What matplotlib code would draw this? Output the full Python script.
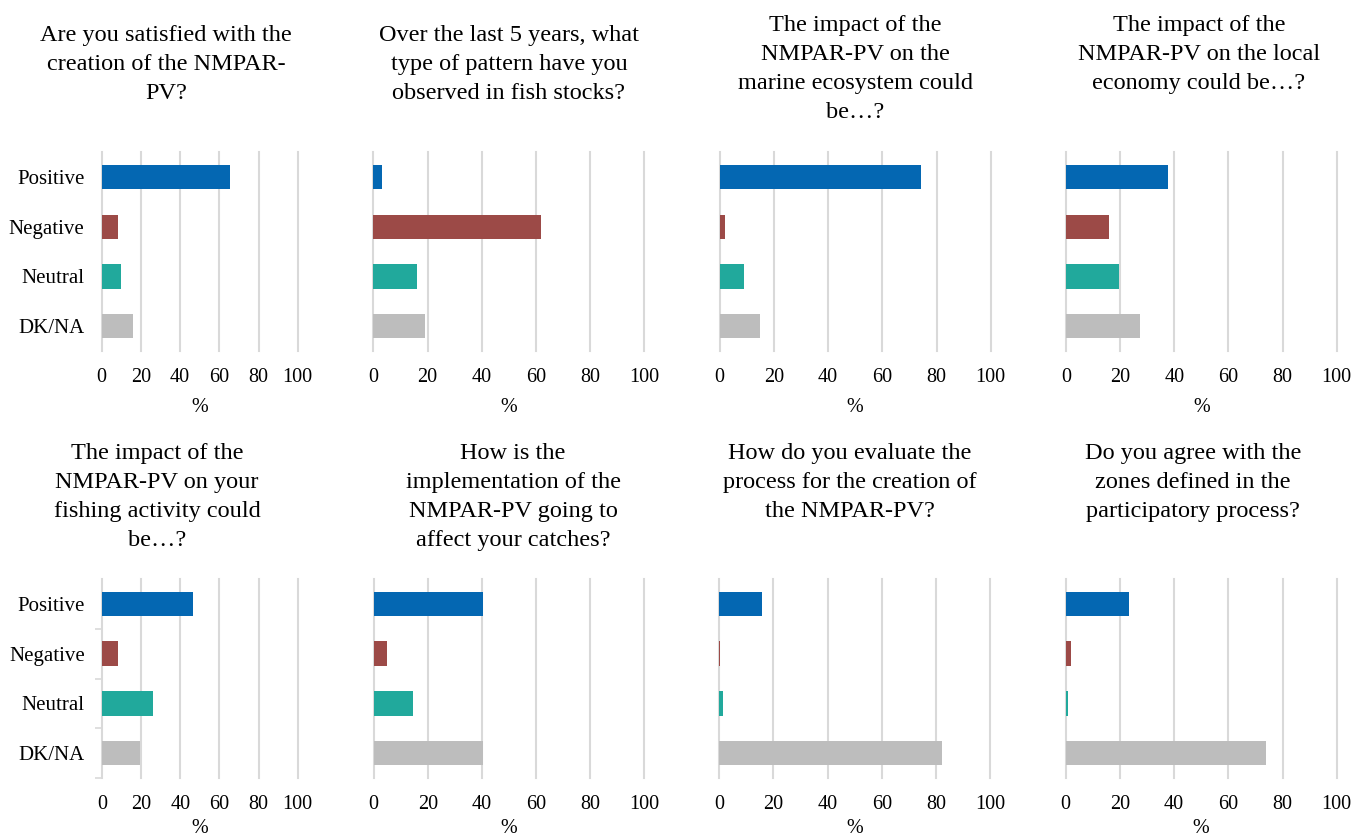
import matplotlib
matplotlib.use("Agg")
import matplotlib.pyplot as plt

plt.rcParams['font.family'] = ['Liberation Serif', 'DejaVu Serif']

categories = ["Positive", "Negative", "Neutral", "DK/NA"]
colors = ["#0467B2", "#9C4A47", "#21A99C", "#BDBDBD"]
xticks = [0, 20, 40, 60, 80, 100]

titles = [
    "Are you satisfied with the\ncreation of the NMPAR-\nPV?",
    "Over the last 5 years, what\ntype of pattern have you\nobserved in fish stocks?",
    "The impact of the\nNMPAR-PV on the\nmarine ecosystem could\nbe\u2026?",
    "The impact of the\nNMPAR-PV on the local\neconomy could be\u2026?",
    "The impact of the\nNMPAR-PV on your\nfishing activity could\nbe\u2026?",
    "How is the\nimplementation of the\nNMPAR-PV going to\naffect your catches?",
    "How do you evaluate the\nprocess for the creation of\nthe NMPAR-PV?",
    "Do you agree with the\nzones defined in the\nparticipatory process?",
]

satisfied = [65.5, 8.2, 9.7, 16.0]
fish_stocks = [3.2, 62.0, 16.2, 18.9]
ecosystem = [74.2, 2.1, 8.9, 15.0]
economy = [37.8, 16.0, 19.5, 27.2]
fishing = [46.5, 8.3, 25.9, 19.3]
catches = [40.5, 5.0, 14.5, 40.5]
process = [15.8, 0.5, 1.4, 82.3]
zones = [23.2, 1.8, 0.9, 74.0]
series = [satisfied, fish_stocks, ecosystem, economy,
          fishing, catches, process, zones]

W, H = 1354, 840
# plot areas in pixels: (x_at_0, x_at_100, top, bottom)
boxes = [
    (101.7, 297.7, 152.3, 351), (373.3, 644.3, 152.3, 351),
    (719.7, 990.7, 152.3, 351), (1066, 1336.7, 152.3, 351),
    (102, 297.7, 579, 778), (373.7, 644.3, 579, 778),
    (719, 990.3, 579, 778), (1065.7, 1336.7, 579, 778),
]
title_pos = [(166, 25), (509, 25), (855, 15), (1199, 15),
             (157, 443), (513, 443), (850, 443), (1193, 443)]

fig = plt.figure(figsize=(W / 100, H / 100), dpi=100)

for i, (vals, box) in enumerate(zip(series, boxes)):
    x0, x1, top, bot = box
    ax = fig.add_axes([x0 / W, 1 - bot / H, (x1 - x0) / W, (bot - top) / H])
    ax.barh(range(4), vals, height=0.49, color=colors, zorder=3)
    ax.set_xlim(0, 100)
    ax.set_ylim(3.5, -0.5)
    ax.set_xticks(xticks)
    ax.grid(axis="x", color="#D9D9D9", linewidth=1.5, zorder=0)
    for gl in ax.get_xgridlines():
        gl.set_clip_on(False)
    for s in ax.spines.values():
        s.set_visible(False)
    ax.tick_params(axis="x", length=0, pad=12, labelsize=14.5)
    # bottom row: keep the % label inside the figure
    ax.set_xlabel("%", fontsize=14.5, labelpad=8 if i < 4 else 4)
    if i % 4 == 0:
        ax.set_yticks(range(4))
        ax.set_yticklabels(categories, fontsize=15)
        ax.tick_params(axis="y", length=0, pad=12.5)
        if i == 4:
            ax.set_yticks([0.5, 1.5, 2.5, 3.5], minor=True)
            ax.tick_params(axis="y", which="minor", length=5,
                           color="#D9D9D9", width=1.2)
    else:
        ax.set_yticks([])
    tx, ty = title_pos[i]
    fig.text(tx / W, 1 - ty / H, titles[i], ha="center", va="top",
             fontsize=17.5, linespacing=1.5, multialignment="center")

fig.savefig("out.png", dpi=100, facecolor="white")
